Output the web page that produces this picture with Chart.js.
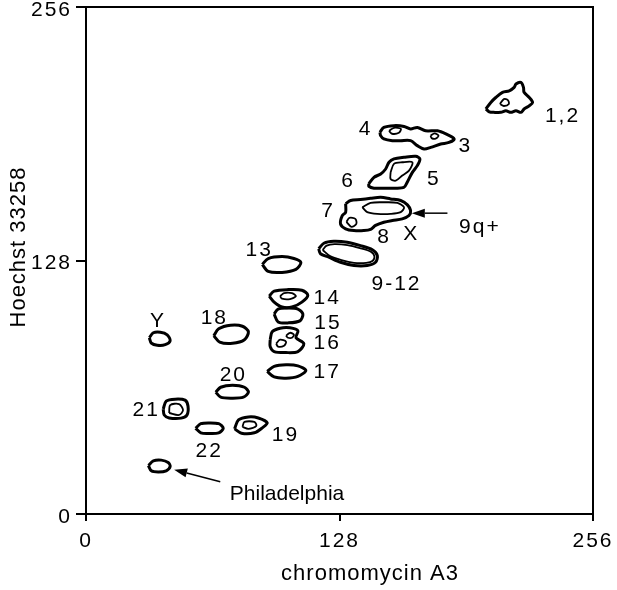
<!DOCTYPE html>
<html><head><meta charset="utf-8">
<script src="https://cdn.jsdelivr.net/npm/chart.js@4.4.1/dist/chart.umd.min.js"></script>
<style>html,body{margin:0;padding:0;background:#fff;}</style>
</head><body>
<canvas id="c" width="617" height="590"></canvas>
<script>
// ---- tick values ----
const xTicks = [0, 128, 256];
const yTicks = [0, 128, 256];

// ---- axis titles ----
const xTitle = 'chromomycin A3';
const yTitle = 'Hoechst 33258';

// ---- contour outlines (chromomycin A3, Hoechst 33258) ----
const c12 = [[201.9,204.5],[204.4,207.8],[206.9,210.3],[210.3,212.9],[213.7,213.7],[216.2,215.4],[217.1,217.1],[219.6,217.9],[220.9,215.4],[221.2,212.9],[223.8,210.3],[225.5,207.8],[223.8,206.1],[221.2,204.5],[219.6,202.8],[217.1,203.6],[214.5,202.8],[212,203.6],[209.5,202.8],[206.1,202.8],[203.6,203.1]];
const c12in = [[209,207],[211,209.5],[213,209],[213.5,207],[211,206]];
const c43 = [[148.4,192.7],[150.4,195.2],[155.5,196.1],[160.6,195.7],[163.9,194.4],[167.3,195.2],[171.5,193.5],[177.5,193.5],[181.7,191.9],[185.9,189.4],[183.3,187.6],[179.1,186.8],[174.1,185.1],[170.7,184.3],[167.3,186],[163.9,188.5],[158.9,188.5],[154.7,188.5],[150.4,189.4],[148.8,191]];
const c4in = [[153,193.5],[155.5,195],[159,194.5],[158,192.5],[154.5,192]];
const c3in = [[174,191],[176,192.2],[178,191],[176.5,189.5],[174.5,189.8]];
const c65 = [[142.8,166.7],[145.4,170],[148.8,171.7],[151.3,174.2],[153,177.6],[155.5,179.3],[160.6,180.1],[166.5,180.6],[168.6,179.3],[167.3,175.9],[164.8,172.5],[162.2,167.5],[160.6,165],[156.4,164.5],[150.4,164.5],[145.4,164.5],[142.8,165.5]];
const c65in = [[153.8,172.5],[155.5,176.8],[159.7,177.6],[164.8,177.6],[163.1,173.4],[159.7,170.9],[156.4,168.3],[153.8,169.2]];
const c78 = [[131.1,156.6],[133.6,158.3],[138.6,158.8],[143.7,159.4],[148.8,159.9],[153.8,159.1],[158.9,158.3],[162.3,156.1],[163.9,153.2],[163.1,150.7],[159.7,149],[154.7,148.2],[150.4,147.3],[146.2,145.7],[143.7,143.7],[140.3,143.1],[135.3,143.1],[131.1,144],[128.5,146.5],[129.4,150.7],[131.1,152.3]];
const c9qin = [[139.5,154.9],[143.7,157.1],[150.4,157.4],[157.2,157.1],[160.6,154.9],[158.9,152.4],[153.8,151.5],[147.1,151.5],[142,152.4]];
const c8in = [[131.5,147.5],[133,149.5],[136,149],[136.5,146.5],[134,145]];
const c912 = [[117.5,133.9],[120.1,136.7],[125.1,137.7],[131.9,137.2],[138.6,135.5],[144.6,133.4],[147.1,130.5],[146.2,127.1],[142,125.5],[135.3,125.5],[128.5,127.1],[122.6,129.7],[118.4,131.4]];
const c912in = [[119.5,133.3],[121.5,135.5],[125.5,136.3],[132,135.8],[138.3,134.3],[143.8,132.5],[145.6,130.3],[144.8,127.9],[141.5,126.8],[135.3,126.8],[129,128.2],[123,130.4]];
const c13 = [[89,126],[92,129],[99,130],[105,129],[108.5,127],[106,123.5],[99,122],[92,122.5]];
const c14 = [[92.5,110],[95,112.5],[102,113.3],[109,113],[112,110.5],[109,107],[104,104.5],[99,104.5],[95,107]];
const c14in = [[98,110],[100,111.5],[104,111.5],[106,110],[103,108.5],[99,108.7]];
const c15 = [[95,101],[97,103.5],[102,104],[107,103.5],[109.5,101],[108,97.5],[102,96.5],[97,97]];
const c16 = [[93,88],[94,92],[98,93.8],[103,94],[107,92.5],[106,89],[110,86],[107,82],[101,81.5],[95,82],[93,84.5]];
const c16a = [[96,86],[98,88],[101,87],[100,85],[97,84.5]];
const c16b = [[101,90],[103,91.5],[105,90.5],[104,89],[102,89]];
const c17 = [[91.5,72],[95,74.5],[101,75.3],[107,74.8],[111,72.5],[107,69.5],[101,68.6],[95,69.2]];
const cY = [[32,89],[34,91.5],[37.5,91.8],[41,90.5],[42.5,87.5],[40,85.5],[36,85.2],[33,86.3]];
const c18 = [[64.5,90],[67,93.5],[73,95.3],[79,94.8],[82,92],[80,88],[74,86.2],[67.5,86.8]];
const c20 = [[65.5,61.5],[68,64],[74,65],[80,64],[82,61.5],[79.5,59],[73.5,58.5],[68,59]];
const c21 = [[39,53],[40.5,57],[45,58],[50,57.5],[51.5,54.5],[51,50],[48,48.4],[42,48.5],[39.5,50]];
const c21in = [[42,51],[42.5,55],[47,55.5],[49,52.5],[47,50]];
const c22 = [[55.3,43.3],[58,45.6],[62,46],[67,45.6],[69.3,43.3],[67,41],[62,40.7],[58,41]];
const c19 = [[75,43],[77,47.5],[82,49],[87,48.5],[91.5,46],[89,43.5],[85,41],[78.5,40.8]];
const c19in = [[79,44],[80,46.5],[85,46.5],[86,44.5],[82,43]];
const cPh = [[31.5,24.5],[34,26.8],[38,27.2],[41.5,26],[42.5,24],[40.5,21.8],[36.5,21.2],[33,21.8]];

const outerContours = [c12, c43, c65, c78, c912, c13, c14, c15, c16, c17, cY, c18, c20, c21, c22, c19, cPh];
const innerContours = [c12in, c4in, c3in, c65in, c9qin, c8in, c912in, c14in, c16a, c16b, c21in, c19in];

// ---- labels ----
const labelTexts = ['1,2','4','3','6','5','7','8','X','9q+','9-12','13','14','15','16','17','Y','18','20','21','22','19','Philadelphia'];
const labelXs    = [240.6,141.2,191.5,132.3,175.6,122.2,150.5,164.2,198.9,156.8,87.5,121.8,122.2,121.8,121.8,36.3,64.8,74.4,30.4,62.2,100.7,101.5];
const labelYs    = [200.8,194.3,185.7,168.1,169.3,153,139.9,141.4,144.9,115.9,133,109.1,96.5,86.4,71.8,97.5,99,70,52.2,31.5,39.8,10.1];

// ---- arrows (tail -> head) ----
const arrowTails = [[182.5,151.9],[67.8,16.3]];
const arrowHeads = [[164.5,151.9],[44.5,22.4]];

const FONT = '"Liberation Sans", Arial, sans-serif';

function toPts(arr){ const p = arr.map(a=>({x:a[0],y:a[1]})); p.push({x:arr[0][0],y:arr[0][1]}); return p; }

const datasets = [];
outerContours.forEach(c => datasets.push({data: toPts(c), showLine:true, borderColor:'#000', borderWidth:3, pointRadius:0, tension:0.3, fill:false}));
innerContours.forEach(c => datasets.push({data: toPts(c), showLine:true, borderColor:'#000', borderWidth:1.8, pointRadius:0, tension:0.3, fill:false}));

const spacingPlugin = {
  id:'spacing',
  beforeUpdate(chart){ chart.ctx.letterSpacing = '2px'; },
  beforeDraw(chart){ chart.ctx.letterSpacing = '2px'; }
};

const annotatePlugin = {
  id:'annot',
  afterDraw(chart){
    const {ctx, chartArea:a, scales:{x, y}} = chart;
    ctx.save();
    // box top/right
    ctx.strokeStyle = '#000'; ctx.lineWidth = 2;
    ctx.beginPath(); ctx.moveTo(a.left, a.top); ctx.lineTo(a.right, a.top); ctx.lineTo(a.right, a.bottom); ctx.stroke();
    // labels
    ctx.fillStyle = '#000'; ctx.textAlign = 'center'; ctx.textBaseline = 'middle';
    labelTexts.forEach((t,i)=>{
      const isWord = t === 'Philadelphia';
      ctx.letterSpacing = isWord ? '0px' : '2px';
      ctx.font = '21px ' + FONT;
      ctx.fillText(t, x.getPixelForValue(labelXs[i]), y.getPixelForValue(labelYs[i]));
    });
    // axis titles
    ctx.letterSpacing = '1px';
    ctx.font = '22px ' + FONT;
    ctx.textBaseline = 'alphabetic';
    ctx.fillText(xTitle, 370, 580);
    ctx.save();
    ctx.translate(25, 247); ctx.rotate(-Math.PI/2);
    ctx.fillText(yTitle, 0, 0);
    ctx.restore();
    // arrows
    ctx.lineWidth = 1.5;
    arrowTails.forEach((t,i)=>{
      const x0 = x.getPixelForValue(t[0]), y0 = y.getPixelForValue(t[1]);
      const x1 = x.getPixelForValue(arrowHeads[i][0]), y1 = y.getPixelForValue(arrowHeads[i][1]);
      const ang = Math.atan2(y1-y0, x1-x0);
      const L = 13, W = 4.5;
      const bx = x1 - L*Math.cos(ang), by = y1 - L*Math.sin(ang);
      ctx.beginPath(); ctx.moveTo(x0,y0); ctx.lineTo(bx,by); ctx.stroke();
      ctx.beginPath(); ctx.moveTo(x1,y1);
      ctx.lineTo(bx + W*Math.sin(ang), by - W*Math.cos(ang));
      ctx.lineTo(bx - W*Math.sin(ang), by + W*Math.cos(ang));
      ctx.closePath(); ctx.fill();
    });
    ctx.restore();
  }
};

new Chart(document.getElementById('c'), {
  type:'scatter',
  data:{datasets},
  options:{
    responsive:false, devicePixelRatio:1, animation:false,
    layout:{padding:{left:0, top:7, right:24, bottom:0}},
    plugins:{legend:{display:false}, tooltip:{enabled:false}},
    scales:{
      x:{type:'linear', min:0, max:256,
        afterBuildTicks:s=>{ s.ticks = xTicks.map(v=>({value:v})); },
        ticks:{font:{family:FONT, size:21}, color:'#000', padding:8, maxRotation:0},
        grid:{display:true, drawOnChartArea:false, drawTicks:true, tickLength:7, color:'#000', lineWidth:2},
        border:{display:true, color:'#000', width:2},
        title:{display:false},
        afterFit:s=>{ s.height = 76; s.paddingLeft = 0; s.paddingRight = 0; }
      },
      y:{type:'linear', min:0, max:256,
        afterBuildTicks:s=>{ s.ticks = yTicks.map(v=>({value:v})); },
        ticks:{font:{family:FONT, size:21}, color:'#000', padding:4, labelOffset:3},
        grid:{display:true, drawOnChartArea:false, drawTicks:true, tickLength:10, color:'#000', lineWidth:2},
        border:{display:true, color:'#000', width:2},
        title:{display:false},
        afterFit:s=>{ s.width = 86; s.paddingTop = 0; s.paddingBottom = 0; }
      }
    }
  },
  plugins:[spacingPlugin, annotatePlugin]
});
</script>
</body></html>
